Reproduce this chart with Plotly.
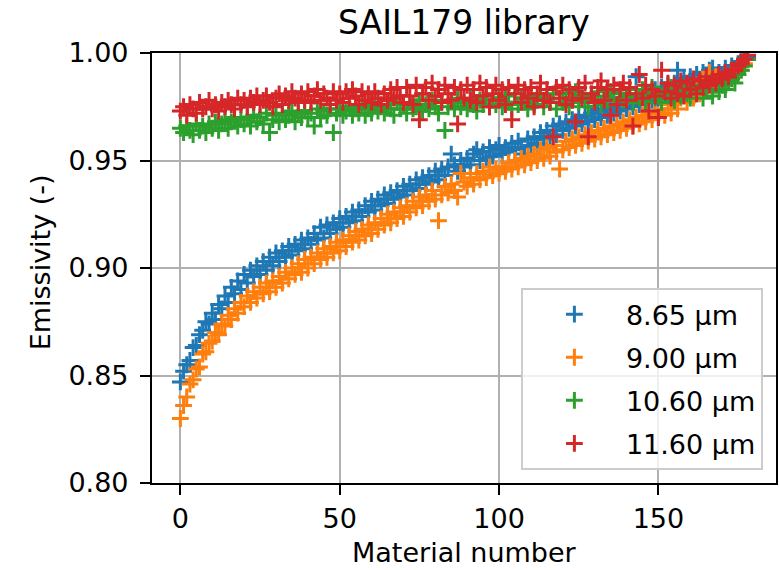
import plotly.graph_objects as go

# Material numbers 0..178
materials = list(range(179))

em_865 = [
    0.847, 0.852, 0.855, 0.857, 0.863, 0.864, 0.869, 0.871, 0.875, 0.874,
    0.879, 0.876, 0.883, 0.881, 0.887, 0.884, 0.891, 0.888, 0.894, 0.890,
    0.897, 0.893, 0.899, 0.896, 0.901, 0.897, 0.903, 0.899, 0.905, 0.901,
    0.907, 0.903, 0.908, 0.905, 0.910, 0.906, 0.911, 0.908, 0.913, 0.909,
    0.914, 0.911, 0.916, 0.913, 0.919, 0.914, 0.920, 0.916, 0.921, 0.918,
    0.923, 0.919, 0.924, 0.921, 0.926, 0.922, 0.927, 0.924, 0.929, 0.926,
    0.931, 0.927, 0.932, 0.929, 0.934, 0.930, 0.935, 0.932, 0.936, 0.933,
    0.938, 0.934, 0.939, 0.936, 0.941, 0.937, 0.942, 0.939, 0.943, 0.940,
    0.945, 0.941, 0.946, 0.943, 0.947, 0.953, 0.948, 0.945, 0.950, 0.947,
    0.951, 0.948, 0.953, 0.955, 0.950, 0.954, 0.951, 0.956, 0.952, 0.955,
    0.957, 0.953, 0.956, 0.954, 0.958, 0.955, 0.959, 0.956, 0.953, 0.960,
    0.957, 0.961, 0.958, 0.963, 0.960, 0.964, 0.961, 0.966, 0.962, 0.967,
    0.964, 0.968, 0.965, 0.969, 0.966, 0.970, 0.967, 0.971, 0.968, 0.972,
    0.969, 0.973, 0.970, 0.974, 0.971, 0.975, 0.972, 0.976, 0.973, 0.977,
    0.974, 0.978, 0.975, 0.989, 0.976, 0.980, 0.977, 0.981, 0.978, 0.983,
    0.979, 0.984, 0.981, 0.985, 0.982, 0.986, 0.992, 0.984, 0.988, 0.985,
    0.989, 0.986, 0.990, 0.987, 0.991, 0.988, 0.992, 0.993, 0.989, 0.991,
    0.990, 0.993, 0.991, 0.994, 0.992, 0.995, 0.996, 0.997, 0.998,
]

em_900 = [
    0.830, 0.836, 0.840, 0.846, 0.848, 0.853, 0.854, 0.860, 0.861, 0.865,
    0.866, 0.870, 0.869, 0.874, 0.873, 0.878, 0.876, 0.881, 0.879, 0.884,
    0.882, 0.887, 0.884, 0.889, 0.886, 0.891, 0.888, 0.893, 0.889, 0.894,
    0.891, 0.896, 0.893, 0.898, 0.895, 0.900, 0.897, 0.902, 0.898, 0.904,
    0.900, 0.905, 0.902, 0.907, 0.904, 0.909, 0.905, 0.910, 0.907, 0.912,
    0.908, 0.913, 0.910, 0.915, 0.912, 0.917, 0.913, 0.918, 0.915, 0.920,
    0.916, 0.921, 0.918, 0.923, 0.920, 0.925, 0.921, 0.926, 0.923, 0.928,
    0.924, 0.929, 0.926, 0.931, 0.928, 0.933, 0.929, 0.934, 0.931, 0.936,
    0.932, 0.922, 0.934, 0.938, 0.935, 0.939, 0.936, 0.933, 0.944, 0.940,
    0.938, 0.942, 0.939, 0.944, 0.941, 0.945, 0.942, 0.947, 0.943, 0.946,
    0.944, 0.947, 0.945, 0.949, 0.946, 0.950, 0.947, 0.951, 0.948, 0.952,
    0.949, 0.953, 0.950, 0.955, 0.951, 0.956, 0.952, 0.957, 0.954, 0.946,
    0.955, 0.959, 0.956, 0.960, 0.957, 0.961, 0.958, 0.962, 0.959, 0.963,
    0.960, 0.964, 0.961, 0.965, 0.962, 0.966, 0.963, 0.967, 0.964, 0.968,
    0.965, 0.969, 0.966, 0.970, 0.967, 0.971, 0.968, 0.972, 0.969, 0.973,
    0.970, 0.974, 0.971, 0.976, 0.972, 0.977, 0.974, 0.979, 0.981, 0.977,
    0.983, 0.979, 0.985, 0.981, 0.987, 0.983, 0.991, 0.985, 0.989, 0.986,
    0.987, 0.990, 0.988, 0.991, 0.990, 0.993, 0.992, 0.995, 0.997,
]

em_1060 = [
    0.965, 0.963, 0.966, 0.964, 0.962, 0.967, 0.964, 0.966, 0.963, 0.967,
    0.965, 0.968, 0.964, 0.967, 0.969, 0.965, 0.968, 0.970, 0.966, 0.969,
    0.967, 0.970, 0.966, 0.971, 0.968, 0.970, 0.967, 0.972, 0.963, 0.969,
    0.971, 0.968, 0.972, 0.969, 0.971, 0.973, 0.968, 0.972, 0.970, 0.973,
    0.970, 0.972, 0.966, 0.974, 0.970, 0.973, 0.971, 0.974, 0.963, 0.972,
    0.974, 0.971, 0.973, 0.975, 0.971, 0.974, 0.972, 0.975, 0.971, 0.974,
    0.972, 0.976, 0.973, 0.975, 0.972, 0.976, 0.974, 0.971, 0.977, 0.974,
    0.976, 0.972, 0.977, 0.974, 0.975, 0.978, 0.973, 0.976, 0.974, 0.978,
    0.975, 0.972, 0.977, 0.964, 0.975, 0.978, 0.974, 0.979, 0.975, 0.977,
    0.974, 0.979, 0.976, 0.973, 0.978, 0.976, 0.980, 0.975, 0.978, 0.976,
    0.979, 0.975, 0.980, 0.977, 0.974, 0.981, 0.976, 0.979, 0.977, 0.974,
    0.980, 0.976, 0.978, 0.981, 0.975, 0.979, 0.977, 0.981, 0.974, 0.979,
    0.977, 0.981, 0.975, 0.979, 0.982, 0.977, 0.980, 0.978, 0.975, 0.981,
    0.978, 0.982, 0.976, 0.980, 0.978, 0.982, 0.979, 0.976, 0.981, 0.978,
    0.980, 0.983, 0.977, 0.981, 0.979, 0.983, 0.977, 0.981, 0.984, 0.979,
    0.981, 0.977, 0.983, 0.980, 0.984, 0.978, 0.982, 0.980, 0.984, 0.981,
    0.979, 0.984, 0.981, 0.985, 0.979, 0.983, 0.986, 0.980, 0.985, 0.982,
    0.985, 0.983, 0.987, 0.988, 0.986, 0.990, 0.992, 0.994, 0.997,
]

em_1160 = [
    0.973, 0.975, 0.971, 0.976, 0.974, 0.972, 0.977, 0.974, 0.975, 0.978,
    0.974, 0.976, 0.973, 0.977, 0.975, 0.978, 0.976, 0.974, 0.979, 0.976,
    0.978, 0.975, 0.979, 0.977, 0.980, 0.976, 0.978, 0.980, 0.977, 0.975,
    0.979, 0.981, 0.976, 0.980, 0.978, 0.982, 0.979, 0.977, 0.981, 0.978,
    0.982, 0.977, 0.980, 0.983, 0.978, 0.981, 0.979, 0.976, 0.982, 0.978,
    0.981, 0.977, 0.982, 0.979, 0.983, 0.980, 0.976, 0.982, 0.978, 0.981,
    0.977, 0.982, 0.979, 0.976, 0.981, 0.978, 0.983, 0.979, 0.984, 0.980,
    0.977, 0.984, 0.980, 0.976, 0.985, 0.969, 0.981, 0.984, 0.978, 0.986,
    0.980, 0.983, 0.977, 0.985, 0.981, 0.978, 0.984, 0.967, 0.983, 0.979,
    0.985, 0.978, 0.983, 0.977, 0.986, 0.980, 0.984, 0.975, 0.981, 0.985,
    0.978, 0.983, 0.976, 0.984, 0.969, 0.981, 0.985, 0.977, 0.983, 0.979,
    0.984, 0.975, 0.981, 0.986, 0.978, 0.983, 0.977, 0.961, 0.984, 0.979,
    0.985, 0.976, 0.983, 0.978, 0.968, 0.984, 0.979, 0.986, 0.961, 0.981,
    0.977, 0.984, 0.987, 0.978, 0.983, 0.971, 0.985, 0.976, 0.983, 0.986,
    0.978, 0.984, 0.966, 0.981, 0.990, 0.979, 0.985, 0.973, 0.983, 0.980,
    0.970, 0.992, 0.982, 0.986, 0.979, 0.985, 0.981, 0.987, 0.980, 0.986,
    0.983, 0.988, 0.981, 0.987, 0.984, 0.989, 0.985, 0.988, 0.986, 0.990,
    0.988, 0.991, 0.989, 0.992, 0.992, 0.994, 0.995, 0.997, 0.999,
]

series_names = ["8.65 µm", "9.00 µm", "10.60 µm", "11.60 µm"]
series_values = [em_865, em_900, em_1060, em_1160]
series_colors = ["#1f77b4", "#ff7f0e", "#2ca02c", "#d62728"]

x_ticks = [0, 50, 100, 150]
y_ticks = [0.80, 0.85, 0.90, 0.95, 1.00]

FONT = "DejaVu Sans"

fig = go.Figure()
for i, (name, vals, col) in enumerate(zip(series_names, series_values, series_colors)):
    fig.add_trace(go.Scatter(
        x=materials, y=vals, mode="markers", name=name, legendgroup=f"g{i}",
        marker=dict(symbol="cross-thin", size=12, color=col,
                    line=dict(color=col, width=3)),
    ))

axis_common = dict(
    showgrid=True, gridcolor="#b0b0b0", gridwidth=2.2,
    showline=True, linecolor="black", linewidth=2.2, mirror=True,
    ticks="outside", ticklen=10, tickwidth=2.2, tickcolor="black",
    zeroline=False,
    tickfont=dict(family=FONT, size=27, color="black"),
)

fig.update_xaxes(range=[-8.9, 186.9], tickvals=x_ticks, **axis_common)
fig.update_yaxes(range=[0.80, 1.00], tickvals=y_ticks, tickformat=".2f",
                 ticklabelstandoff=6, **axis_common)

fig.update_layout(
    width=779, height=570,
    margin=dict(l=152, r=1, t=53, b=87),
    plot_bgcolor="white", paper_bgcolor="white",
    font=dict(family=FONT, size=27, color="black"),
    showlegend=True,
    legend=dict(
        x=0.979, y=0.03, xanchor="right", yanchor="bottom",
        bgcolor="rgba(255,255,255,0.8)", bordercolor="#cccccc", borderwidth=2,
        font=dict(family=FONT, size=27, color="black"),
        itemwidth=93, tracegroupgap=5,
    ),
    annotations=[
        dict(text="SAIL179 library", xref="paper", yref="paper",
             x=0.5, y=(483 - 22) / 430, xanchor="center", yanchor="middle",
             showarrow=False, font=dict(family=FONT, size=33, color="black")),
        dict(text="Material number", xref="paper", yref="paper",
             x=0.5, y=(483 - 552) / 430, xanchor="center", yanchor="middle",
             showarrow=False, font=dict(family=FONT, size=27, color="black")),
        dict(text="Emissivity (-)", xref="paper", yref="paper",
             x=(40 - 152) / 626, y=(483 - 262) / 430, xanchor="center", yanchor="middle",
             textangle=-90, showarrow=False,
             font=dict(family=FONT, size=27, color="black")),
    ],
)

fig.write_html("out.html")
